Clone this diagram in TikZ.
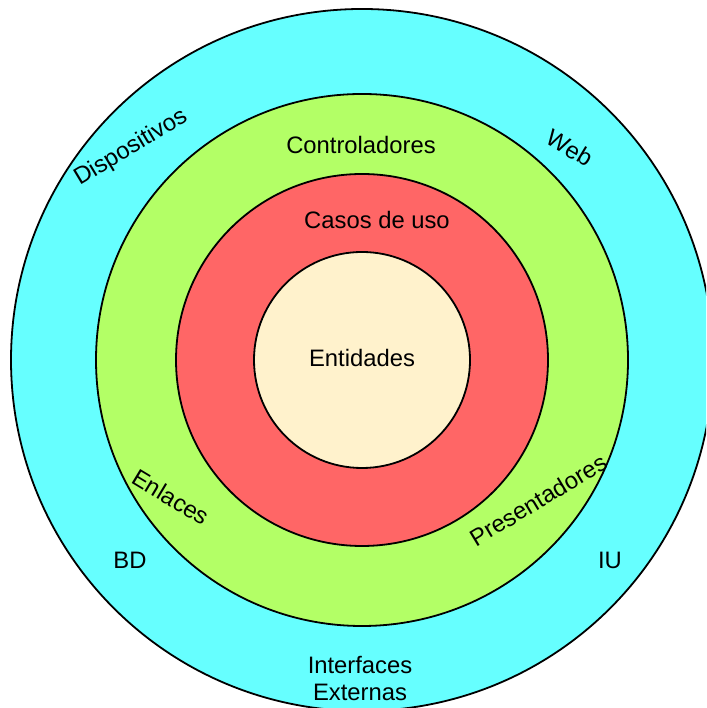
\documentclass[tikz,border=0pt]{standalone}
\usepackage{fontspec}
\setmainfont{Liberation Sans}
\definecolor{ringcyan}{HTML}{66FFFF}
\definecolor{ringgreen}{HTML}{B3FF66}
\definecolor{ringred}{HTML}{FF6666}
\definecolor{ringcore}{HTML}{FFF2CC}
\begin{document}
\begin{tikzpicture}[x=1pt,y=1pt,
  ring/.style={circle, draw=black, line width=1.8pt, inner sep=0pt, outer sep=0pt},
  lbl/.style={font=\fontsize{23.8}{27}\selectfont, inner sep=0pt, align=center, text=black}]
\useasboundingbox (0,0) rectangle (706,708);
\clip (0,0) rectangle (706,708);
\node[ring, fill=ringcyan, minimum size=702pt] (outer) at (362,348) {};
\node[ring, fill=ringgreen, minimum size=532pt] (green) at (362,348) {};
\node[ring, fill=ringred, minimum size=372pt] (red) at (362,348) {};
\node[ring, fill=ringcore, minimum size=216pt] (core) at (362,348) {};
\node[lbl] (ent) at (362,350) {Entidades};
\node[lbl] (casos) at (377,488) {Casos de uso};
\node[lbl] (ctrl) at (361,563) {Controladores};
\node[lbl, rotate=31] (disp) at (131,560) {Dispositivos};
\node[lbl, rotate=-31] (web) at (570,560) {Web};
\node[lbl, rotate=-31] (enl) at (171,211) {Enlaces};
\node[lbl, rotate=31] (pres) at (538,208) {Presentadores};
\node[lbl] (bd) at (130,148) {BD};
\node[lbl] (iu) at (610,148) {IU};
\node[lbl] (ext) at (360,29.5) {Interfaces\\Externas};
\end{tikzpicture}
\end{document}
